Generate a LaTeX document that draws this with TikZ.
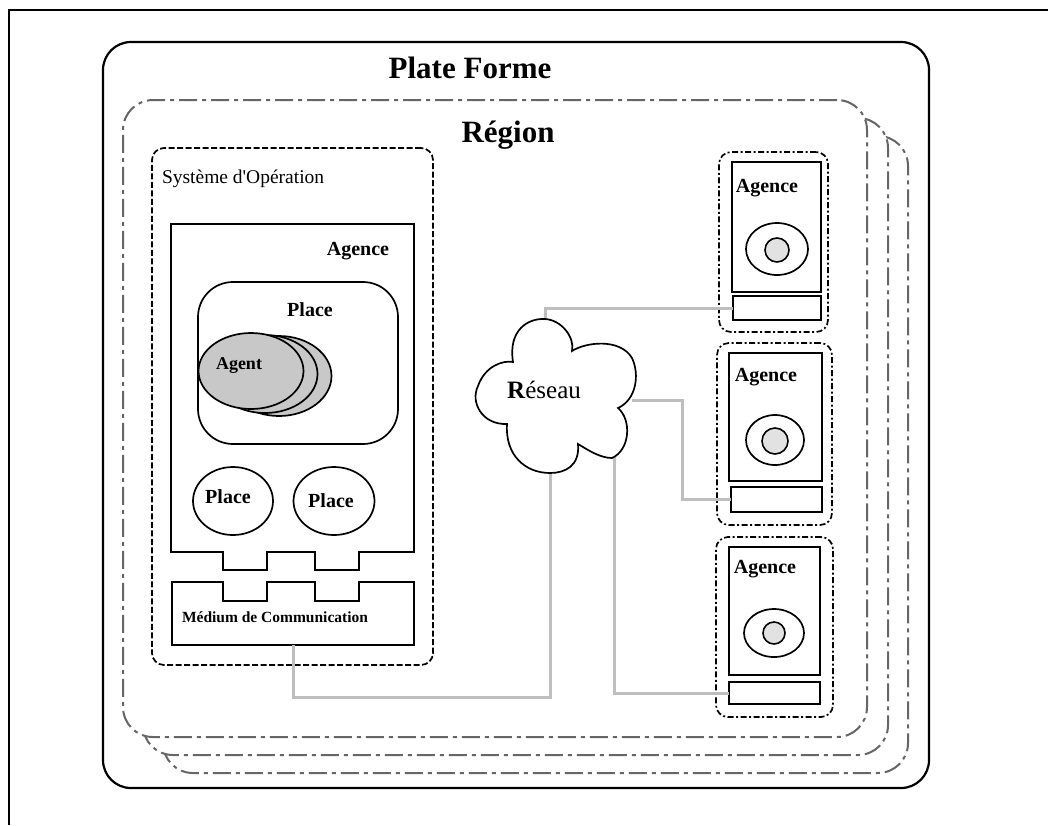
\documentclass[tikz,border=0pt]{standalone}
\usepackage{fontspec}
\setmainfont{Liberation Serif}
\usetikzlibrary{shapes.geometric}
\definecolor{linkgray}{HTML}{BEBEBE}
\definecolor{reggray}{HTML}{666666}
\definecolor{agentgray}{HTML}{C8C8C8}
\definecolor{coregray}{HTML}{E2E2E2}
\begin{document}
\begin{tikzpicture}[x=1pt,y=-1pt,
  frameline/.style={line width=1.6pt},
  platebox/.style={draw, line width=2.2pt, rounded corners=28pt, fill=white, inner sep=0pt, outer sep=0pt},
  regionbox/.style={draw=reggray, line width=2pt, rounded corners=30pt, fill=white, inner sep=0pt, outer sep=0pt, dash pattern=on 18pt off 5pt on 4pt off 5pt},
  osbox/.style={draw, line width=1.7pt, rounded corners=12pt, inner sep=0pt, outer sep=0pt, dash pattern=on 6pt off 2.5pt},
  grpbox/.style={draw, line width=1.7pt, rounded corners=12pt, inner sep=0pt, outer sep=0pt, dash pattern=on 6pt off 2.5pt on 2pt off 2.5pt},
  solidbox/.style={draw, line width=1.7pt, inner sep=0pt, outer sep=0pt},
  placebox/.style={draw, line width=1.7pt, rounded corners=35pt, inner sep=0pt, outer sep=0pt},
  ell/.style={ellipse, draw, line width=1.7pt, inner sep=0pt, outer sep=0pt},
  agentell/.style={ell, fill=agentgray},
  coreell/.style={circle, draw, line width=1.6pt, fill=coregray, inner sep=0pt, outer sep=0pt},
  link/.style={draw=linkgray, line width=3pt},
  txt/.style={inner sep=0pt, outer sep=0pt, anchor=base},
  bigtitle/.style={txt, font=\fontsize{31}{36}\selectfont\bfseries},
  label/.style={txt, font=\fontsize{20}{24}\selectfont\bfseries},
  smalllabel/.style={txt, font=\fontsize{18}{22}\selectfont\bfseries}
]
\useasboundingbox (0,0) rectangle (1048,825);
% outer frame
\coordinate (f1) at (9,825);
\coordinate (f2) at (9,10);
\coordinate (f3) at (1048,10);
\draw[frameline] (f1) -- (f2) -- (f3);

% plate forme and regions
\node[platebox, minimum width=826pt, minimum height=746pt] (plate) at (516,415) {};
\node[regionbox, minimum width=745pt, minimum height=637pt] (reg3) at (535.5,454.5) {};
\node[regionbox, minimum width=745pt, minimum height=637pt] (reg2) at (515.5,436.5) {};
\node[regionbox, minimum width=744pt, minimum height=637pt] (reg1) at (495,418.5) {};
\node[bigtitle] (tplate) at (470,78) {Plate Forme};
\node[bigtitle] (treg) at (508,142) {Région};

% systeme d'operation
\node[osbox, minimum width=281pt, minimum height=517pt] (os) at (292.5,406.5) {};
\node[txt, anchor=base west, font=\fontsize{19.5}{24}\selectfont] (tos) at (162,183) {Système d\textquotesingle Opération};

% agence (left) with notched bottom
\draw[line width=1.7pt] (171,552) -- (171,224) -- (414,224) -- (414,552) -- (359,552) -- (359,570) -- (315,570) -- (315,552) -- (267,552) -- (267,570) -- (223,570) -- (223,552) -- cycle;
\node[label] (tagL) at (358,255) {Agence};

% medium with notched top
\draw[line width=1.7pt] (172,645) -- (172,582) -- (223,582) -- (223,601) -- (267,601) -- (267,582) -- (315,582) -- (315,601) -- (359,601) -- (359,582) -- (414,582) -- (414,645) -- cycle;
\coordinate (medB) at (293,645);
\node[txt, font=\fontsize{15.5}{19}\selectfont\bfseries] (tmed) at (275,622) {Médium de Communication};

% big place
\node[placebox, minimum width=200pt, minimum height=162pt] (place) at (298,363) {};
\node[label] (tplace) at (310,316) {Place};

% agents
\node[agentell, minimum width=105pt, minimum height=80pt] (ag3) at (279,376) {};
\node[agentell, minimum width=105pt, minimum height=78pt] (ag2) at (265,374) {};
\node[agentell, minimum width=105pt, minimum height=76pt] (ag1) at (251,371) {};
\node[smalllabel] (tagent) at (239,369) {Agent};

% small places
\node[ell, minimum width=80pt, minimum height=68pt] (pl1) at (233,501) {};
\node[ell, minimum width=81pt, minimum height=68pt] (pl2) at (334,501) {};
\node[label] (tpl1) at (228,503) {Place};
\node[label] (tpl2) at (331,507) {Place};

% connector anchor points
\coordinate (cT) at (545,320);
\coordinate (cR) at (632,400);
\coordinate (cBR) at (614,456);
\coordinate (cB) at (550,471);
\coordinate (b2) at (682,450);
\coordinate (b4) at (420,697);

% right groups
\node[grpbox, minimum width=109pt, minimum height=180pt] (g1) at (773.5,242) {};
\node[solidbox, minimum width=89pt, minimum height=130pt] (a1) at (776.5,227) {};
\node[solidbox, minimum width=88pt, minimum height=24pt] (c1) at (777,308) {};
\node[ell, minimum width=62pt, minimum height=52pt] (e1) at (777,249) {};
\node[coreell, minimum size=24pt] (i1) at (777,250) {};
\node[label] (ta1) at (767,192) {Agence};

\node[grpbox, minimum width=115pt, minimum height=182pt] (g2) at (774.5,434) {};
\node[solidbox, minimum width=93pt, minimum height=128pt] (a2) at (775.5,417) {};
\node[solidbox, minimum width=91pt, minimum height=25pt] (c2) at (776.5,499.5) {};
\node[ell, minimum width=58pt, minimum height=50pt] (e2) at (775,440) {};
\node[coreell, minimum size=26pt] (i2) at (775,441) {};
\node[label] (ta2) at (766,381) {Agence};

\node[grpbox, minimum width=117pt, minimum height=180pt] (g3) at (774.5,627) {};
\node[solidbox, minimum width=91pt, minimum height=128pt] (a3) at (774.5,611) {};
\node[solidbox, minimum width=91pt, minimum height=22pt] (c3) at (774.5,693) {};
\node[ell, minimum width=60pt, minimum height=48pt] (e3) at (774,633) {};
\node[coreell, minimum size=22pt] (i3) at (774,633) {};
\node[label] (ta3) at (765,573) {Agence};

\draw[link] (cT) |- (c1.west);
\draw[link] (cR) -| (b2) |- (c2.west);
\draw[link] (cBR) |- (c3.west);
\draw[link] (cB) |- (b4) -| (medB);

% cloud
\draw[line width=1.7pt, fill=white] (513,362)
  .. controls (508,330) and (528,318) .. (545,319)
  .. controls (562,320) and (575,338) .. (572,351)
  .. controls (586,342) and (620,338) .. (632,358)
  .. controls (640,375) and (636,400) .. (618,408)
  .. controls (632,420) and (630,450) .. (612,458)
  .. controls (600,458) and (588,450) .. (578,444)
  .. controls (580,466) and (565,473) .. (550,473)
  .. controls (525,473) and (505,455) .. (507,424)
  .. controls (482,425) and (470,402) .. (478,386)
  .. controls (485,366) and (503,360) .. (513,362) -- cycle;
\node[txt, font=\fontsize{25}{30}\selectfont] (tnet) at (544,398) {\textbf{R}éseau};
\end{tikzpicture}
\end{document}
